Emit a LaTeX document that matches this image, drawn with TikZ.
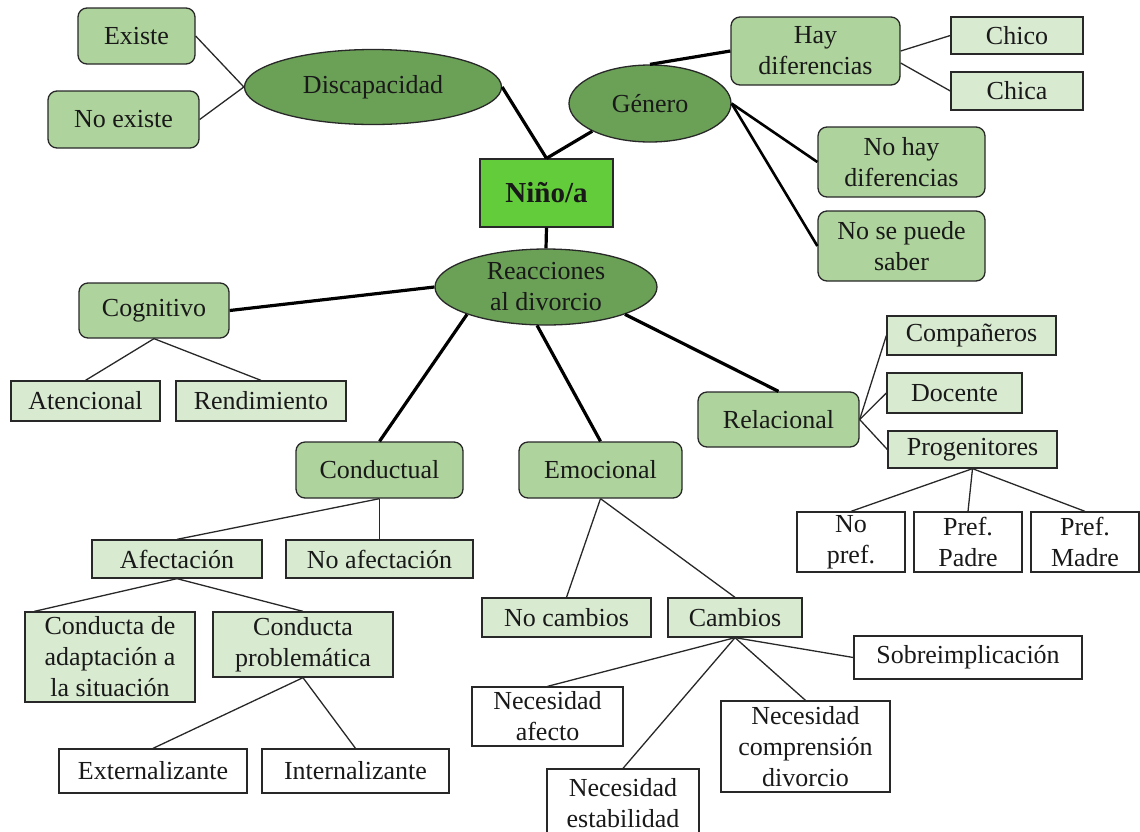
\documentclass[tikz,border=0pt]{standalone}
\usepackage{fontspec}
\setmainfont{Liberation Serif}
\usetikzlibrary{shapes.geometric}
\definecolor{ellfill}{RGB}{107,160,87}
\definecolor{rfill}{RGB}{174,211,156}
\definecolor{lfill}{RGB}{216,234,208}
\definecolor{ninofill}{RGB}{99,204,58}
\definecolor{edgecol}{RGB}{40,40,40}
\definecolor{txtcol}{RGB}{25,25,25}
\tikzset{
  base/.style={draw=edgecol, line width=1.3pt, inner sep=0pt, align=center, text=txtcol,
    font=\fontsize{26}{31}\selectfont},
  rbox/.style={base, rectangle, rounded corners=9pt, fill=rfill},
  lbox/.style={base, rectangle, fill=lfill},
  wbox/.style={base, rectangle, fill=white},
  ell/.style={base, ellipse, fill=ellfill},
  thin/.style={draw=edgecol, line width=1.3pt},
  thick/.style={draw=black, line width=3.2pt},
  mid/.style={draw=black, line width=2.6pt},
}
\begin{document}
\begin{tikzpicture}[x=1pt,y=-1pt]
\useasboundingbox (0,0) rectangle (1140,831);
\path
 (136.5,36) node[rbox, minimum width=117pt, minimum height=56pt] (existe) {Existe}
 (123.5,119.5) node[rbox, minimum width=151pt, minimum height=57pt] (noexiste) {No existe}
 (373,87) node[ell, minimum width=257pt, minimum height=75pt] (disc) {Discapacidad}
 (650,103.5) node[ell, minimum width=162pt, minimum height=77pt] (gen) {Género}
 (815.5,51) node[rbox, minimum width=169pt, minimum height=68pt] (hay) {Hay\\diferencias}
 (1017,35.5) node[lbox, minimum width=132pt, minimum height=37pt] (chico) {Chico}
 (1017,91) node[lbox, minimum width=132pt, minimum height=38pt] (chica) {Chica}
 (901.5,162) node[rbox, minimum width=167pt, minimum height=70pt] (nohay) {No hay\\diferencias}
 (901.5,246) node[rbox, minimum width=167pt, minimum height=70pt] (nose) {No se puede\\saber}
 (546.5,193) node[base, rectangle, fill=ninofill, minimum width=133pt, minimum height=68pt,
   font=\fontsize{29}{33}\selectfont\bfseries] (nino) {Niño/a}
 (546,287) node[ell, minimum width=222pt, minimum height=76pt] (reac) {Reacciones\\al divorcio}
 (154,310.5) node[rbox, minimum width=150pt, minimum height=55pt] (cog) {Cognitivo}
 (85.5,401) node[lbox, minimum width=149pt, minimum height=40pt] (aten) {Atencional}
 (261,401) node[lbox, minimum width=170pt, minimum height=40pt] (rend) {Rendimiento}
 (379.5,470) node[rbox, minimum width=167pt, minimum height=56pt] (cond) {Conductual}
 (600.5,470) node[rbox, minimum width=163pt, minimum height=56pt] (emo) {Emocional}
 (778.5,419.5) node[rbox, minimum width=161pt, minimum height=55pt] (rel) {Relacional}
 (971.5,335.5) node[lbox, minimum width=169pt, minimum height=39pt] (comp) {Compañeros}
 (954.5,393) node[lbox, minimum width=135pt, minimum height=40pt] (doc) {Docente}
 (972.5,449.5) node[lbox, minimum width=169pt, minimum height=37pt] (prog) {Progenitores}
 (851,542) node[wbox, minimum width=108pt, minimum height=60pt] (nopref) {No\\pref.}
 (968,542) node[wbox, minimum width=108pt, minimum height=60pt] (padre) {Pref.\\Padre}
 (1085,542) node[wbox, minimum width=108pt, minimum height=60pt] (madre) {Pref.\\Madre}
 (177,559) node[lbox, minimum width=170pt, minimum height=38pt] (afec) {Afectación}
 (379.5,559) node[lbox, minimum width=187pt, minimum height=38pt] (noafec) {No afectación}
 (110,657) node[lbox, minimum width=170pt, minimum height=90pt] (adapt) {Conducta de\\adaptación a\\la situación}
 (303,644.5) node[lbox, minimum width=180pt, minimum height=65pt] (prob) {Conducta\\problemática}
 (153,771) node[wbox, minimum width=188pt, minimum height=44pt] (ext) {Externalizante}
 (355.5,771) node[wbox, minimum width=187pt, minimum height=44pt] (int) {Internalizante}
 (566.5,617.5) node[lbox, minimum width=169pt, minimum height=39pt] (nocamb) {No cambios}
 (735,617.5) node[lbox, minimum width=134pt, minimum height=39pt] (camb) {Cambios}
 (968,657.5) node[wbox, minimum width=228pt, minimum height=43pt] (sobre) {Sobreimplicación}
 (547.5,716.5) node[wbox, minimum width=151pt, minimum height=59pt] (nafecto) {Necesidad\\afecto}
 (805.5,746.5) node[wbox, minimum width=169pt, minimum height=91pt] (ncomp) {Necesidad\\comprensión\\divorcio}
 (623,803) node[wbox, minimum width=152pt, minimum height=68pt] (nestab) {Necesidad\\estabilidad};
% connectors
\draw[thin] (existe.east) -- (disc.west);
\draw[thin] (noexiste.east) -- (disc.west);
\draw[thick] (disc.east) -- (nino.north);
\draw[thick] (gen.south west) -- (nino.north);
\draw[thick] (gen.north) -- (hay.west);
\draw[thin] (hay.east) -- (chico.west);
\draw[thin] ([yshift=-12pt]hay.east) -- (chica.west);
\draw[mid] (gen.east) -- (nohay.west);
\draw[mid] (gen.east) -- (nose.west);
\draw[thick] (nino.south) -- (reac.north);
\draw[thick] (reac.west) -- (cog.east);
\draw[thin] (cog.south) -- (aten.north);
\draw[thin] (cog.south) -- (rend.north);
\draw[thick] (reac.south west) -- (cond.north);
\draw[thick] (reac.257) -- (emo.north);
\draw[thick] (reac.south east) -- (rel.north);
\draw[thin] (rel.east) -- (comp.west);
\draw[thin] (rel.east) -- (doc.west);
\draw[thin] (rel.east) -- (prog.west);
\draw[thin] (prog.south) -- (nopref.north);
\draw[thin] (prog.south) -- (padre.north);
\draw[thin] (prog.south) -- (madre.north);
\draw[thin] (cond.south) -- (afec.north);
\draw[thin] (cond.south) -- (noafec.north);
\draw[thin] (afec.south) -- ([xshift=10pt]adapt.north west);
\draw[thin] (afec.south) -- (prob.north);
\draw[thin] (prob.south) -- (ext.north);
\draw[thin] (prob.south) -- (int.north);
\draw[thin] (emo.south) -- (nocamb.north);
\draw[thin] (emo.south) -- (camb.north);
\draw[thin] (camb.south) -- (nafecto.north);
\draw[thin] (camb.south) -- (nestab.north);
\draw[thin] (camb.south) -- (ncomp.north);
\draw[thin] (camb.south) -- (sobre.west);
\end{tikzpicture}
\end{document}
